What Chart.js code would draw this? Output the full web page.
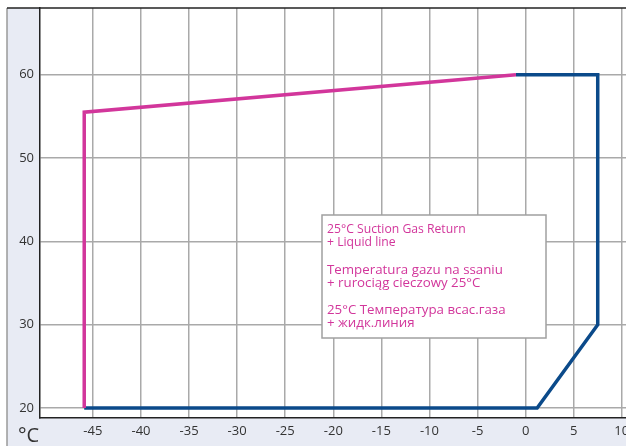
<!DOCTYPE html>
<html>
<head>
<meta charset="utf-8">
<script src="https://cdn.jsdelivr.net/npm/chart.js@4/dist/chart.umd.min.js"></script>
<style>
  html, body { margin: 0; padding: 0; background: #fff; overflow: hidden; }
  #envelope { display: block; }
</style>
</head>
<body>
<canvas id="envelope" width="680" height="446"></canvas>
<script>
// operating envelope, evaporating temp (x) vs condensing temp (y), °C
const pinkX = [-45.9, -45.9, -1];
const pinkY = [20, 55.5, 60];
const blueX = [-45.9, 1.2, 7.5, 7.5, -1];
const blueY = [20, 20, 30, 60, 60];

const xTicks = [-45, -40, -35, -30, -25, -20, -15, -10, -5, 0, 5, 10];
const yTicks = [20, 30, 40, 50, 60];

// [text, font size, offset from box top]
const noteLines = [
  ['25°C Suction Gas Return', 12.2, 14.5],
  ['+ Liquid line', 12.2, 27.5],
  ['Temperatura gazu na ssaniu', 13.3, 55],
  ['+ rurociąg cieczowy 25°C', 13.3, 68.7],
  ['25°C Температура всас.газа', 13.3, 95.2],
  ['+ жидк.линия', 13.3, 108.7]
];

const pink = '#d2369b';
const blue = '#0b4a8a';
const panelBg = '#e8ebf4';

const toPoints = (xs, ys) => xs.map((x, i) => ({ x: x, y: ys[i] }));

const panel = {
  id: 'panel',
  beforeDraw(chart) {
    const ctx = chart.ctx;
    const a = chart.chartArea;
    ctx.save();
    ctx.fillStyle = panelBg;
    ctx.fillRect(7, 8, chart.width - 7, chart.height - 8);
    ctx.fillStyle = '#fff';
    ctx.fillRect(a.left, a.top, a.right - a.left, a.bottom - a.top);
    ctx.restore();
  },
  afterDraw(chart) {
    const ctx = chart.ctx;
    const a = chart.chartArea;
    ctx.save();
    // outer frame
    ctx.strokeStyle = '#9a9a9a';
    ctx.lineWidth = 1.5;
    ctx.beginPath();
    ctx.moveTo(7, chart.height);
    ctx.lineTo(7, 8);
    ctx.stroke();
    ctx.strokeStyle = '#222';
    ctx.beginPath();
    ctx.moveTo(7, a.top);
    ctx.lineTo(chart.width, a.top);
    ctx.stroke();

    // unit label
    ctx.fillStyle = '#333';
    ctx.font = '20px "Open Sans", sans-serif';
    ctx.textBaseline = 'alphabetic';
    ctx.textAlign = 'left';
    ctx.fillText('°C', 18, 442);

    // note box
    const bx = 322, by = 215, bw = 224, bh = 123;
    ctx.fillStyle = '#fff';
    ctx.fillRect(bx, by, bw, bh);
    ctx.strokeStyle = '#a0a0a0';
    ctx.lineWidth = 1.5;
    ctx.strokeRect(bx, by, bw, bh);
    ctx.fillStyle = pink;
    ctx.textBaseline = 'middle';
    noteLines.forEach(([t, size, dy]) => {
      ctx.font = size + 'px "Open Sans", sans-serif';
      ctx.fillText(t, bx + 5, by + dy);
    });
    ctx.restore();
  }
};

new Chart(document.getElementById('envelope'), {
  type: 'scatter',
  data: {
    datasets: [
      {
        data: toPoints(pinkX, pinkY),
        borderColor: pink,
        borderWidth: 3.5,
        showLine: true,
        pointRadius: 0,
        borderJoinStyle: 'miter',
        borderCapStyle: 'butt'
      },
      {
        data: toPoints(blueX, blueY),
        borderColor: blue,
        borderWidth: 3.5,
        showLine: true,
        pointRadius: 0,
        borderJoinStyle: 'miter',
        borderCapStyle: 'butt'
      }
    ]
  },
  options: {
    responsive: false,
    animation: false,
    layout: { padding: { left: 7, top: 8, right: 39, bottom: 0 } },
    plugins: { legend: { display: false }, tooltip: { enabled: false }, title: { display: false } },
    scales: {
      x: {
        type: 'linear',
        min: -50.5,
        max: 12,
        afterBuildTicks: s => { s.ticks = xTicks.map(v => ({ value: v })); },
        afterFit: s => { s.height = 28; s.paddingLeft = 0; s.paddingRight = 0; },
        grid: { color: '#a9a9a9', lineWidth: 1.5, drawTicks: false },
        border: { color: '#222', width: 1.5 },
        ticks: { color: '#333', padding: 5, font: { family: '"Open Sans", sans-serif', size: 13 } }
      },
      y: {
        type: 'linear',
        min: 18.8,
        max: 68,
        afterBuildTicks: s => { s.ticks = yTicks.map(v => ({ value: v })); },
        afterFit: s => { s.width = 33; s.paddingTop = 0; s.paddingBottom = 0; },
        grid: { color: '#a9a9a9', lineWidth: 1.5, drawTicks: false },
        border: { color: '#222', width: 1.5 },
        ticks: { color: '#333', padding: 6, font: { family: '"Open Sans", sans-serif', size: 13 } }
      }
    }
  },
  plugins: [panel]
});
</script>
</body>
</html>
